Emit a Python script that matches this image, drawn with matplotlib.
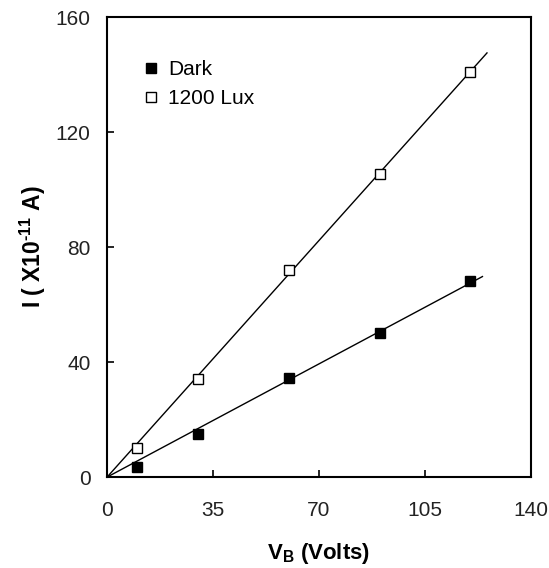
import numpy as np
import matplotlib
matplotlib.use('Agg')
import matplotlib.pyplot as plt

plt.rcParams['font.family'] = ['Liberation Sans', 'DejaVu Sans']
# bold math so the axis-label sub/superscripts match the bold labels
plt.rcParams['mathtext.fontset'] = 'custom'
plt.rcParams['mathtext.rm'] = 'Liberation Sans:bold'
plt.rcParams['mathtext.bf'] = 'Liberation Sans:bold'
plt.rcParams['mathtext.it'] = 'Liberation Sans:bold'

# Bias voltage (V) and current (x1e-11 A)
v_bias = [10, 30, 60, 90, 120]
i_dark = [3.4, 15.0, 34.3, 50.2, 68.2]
i_lux = [10.0, 34.0, 72.0, 105.5, 141.0]
fit_end = [124, 125.5]  # where the trend lines stop (dark, lux)

x_ticks = [0, 35, 70, 105, 140]
y_ticks = [0, 40, 80, 120, 160]


def slope_through_origin(x, y):
    x = np.asarray(x, float)
    y = np.asarray(y, float)
    return np.sum(x * y) / np.sum(x * x)


fig = plt.figure(figsize=(5.49, 5.68), dpi=100)
ax = fig.add_axes([0.195, 0.160, 0.772, 0.810])

# trend lines (least squares through origin)
for ys, xe in [(i_dark, fit_end[0]), (i_lux, fit_end[1])]:
    k = slope_through_origin(v_bias, ys)
    xs = np.array([0, xe])
    ax.plot(xs, k * xs, color='black', linewidth=1.0, zorder=2)

ax.plot(v_bias, i_dark, 's', color='black', markersize=7,
        markeredgewidth=1.0, label='Dark', zorder=3)
ax.plot(v_bias, i_lux, 's', markerfacecolor='white', markeredgecolor='black',
        markersize=7, markeredgewidth=1.0, label='1200 Lux', zorder=3)

ax.set_xlim(0, 140)
ax.set_ylim(0, 160)
ax.set_xticks(x_ticks)
ax.set_yticks(y_ticks)
ax.tick_params(axis='both', direction='in', length=5, width=1.2,
               labelsize=15, labelcolor='#222222')
ax.tick_params(axis='x', pad=17)
ax.tick_params(axis='y', pad=12)
for s in ax.spines.values():
    s.set_linewidth(1.5)

ax.set_xlabel(r'V$_\mathrm{B}$ (Volts)', fontsize=16, fontweight='bold', labelpad=15)
ax.set_ylabel(r'I ( X10$^{\text{-11}}$ A)', fontsize=16.5, fontweight='bold',
              labelpad=5)

ax.legend(loc='upper left', bbox_to_anchor=(0.055, 0.925), frameon=False,
          fontsize=15, handletextpad=0.2, labelspacing=0.5, handlelength=1.2,
          borderaxespad=0)

fig.savefig('out.png', dpi=100)
